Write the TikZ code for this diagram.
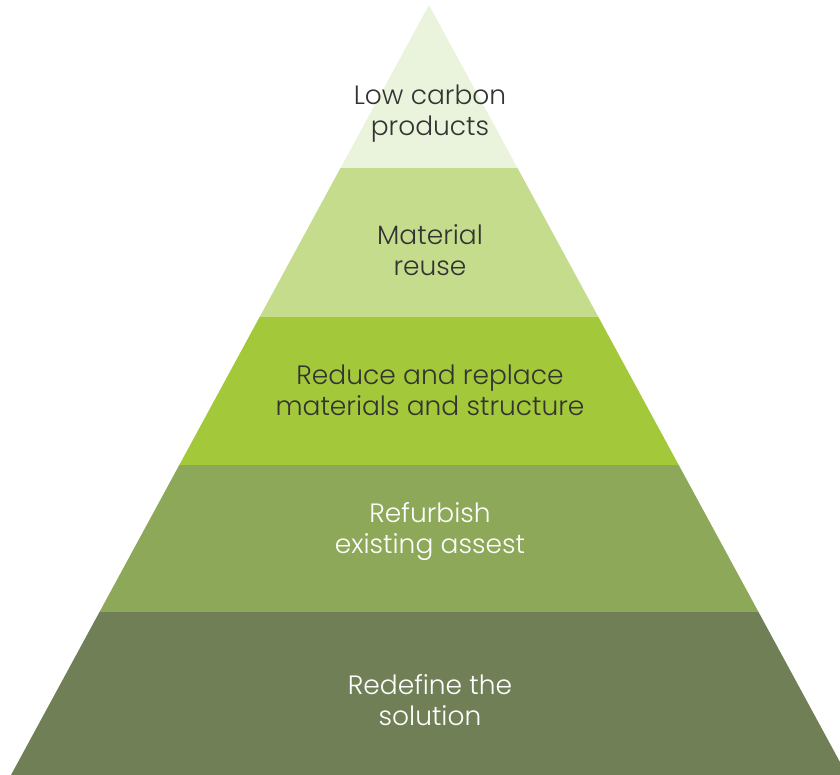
\documentclass[tikz,border=0pt]{standalone}
\usepackage{fontspec}
\setmainfont{Poppins Light}
\definecolor{lay1}{HTML}{EAF4DC}
\definecolor{lay2}{HTML}{C5DC8C}
\definecolor{lay3}{HTML}{A3C839}
\definecolor{lay4}{HTML}{8CA858}
\definecolor{lay5}{HTML}{717F57}
\definecolor{darktext}{HTML}{333333}
\tikzset{
  lbl/.style={align=center, font=\fontsize{26.5}{31}\selectfont, inner sep=0pt},
  dk/.style={lbl, text=darktext},
  wt/.style={lbl, text=white}
}
\begin{document}
\begin{tikzpicture}[x=1pt,y=-1pt]
\useasboundingbox (0,0) rectangle (840,775);
\begin{scope}
\clip (429,5) -- (11,775) -- (847,775) -- cycle;
\fill[lay1] (0,0) rectangle (840,168);
\fill[lay2] (0,168) rectangle (840,317);
\fill[lay3] (0,317) rectangle (840,465);
\fill[lay4] (0,465) rectangle (840,612);
\fill[lay5] (0,612) rectangle (840,776);
\end{scope}
\node[dk] (t1) at (430,114) {Low carbon\\products};
\node[dk] (t2) at (430,250) {Material\\reuse};
\node[dk] (t3) at (430,390) {Reduce and replace\\materials and structure};
\node[wt] (t4) at (430,532) {Refurbish\\existing assest};
\node[wt] (t5) at (430,700) {Redefine the\\solution};
\end{tikzpicture}
\end{document}
